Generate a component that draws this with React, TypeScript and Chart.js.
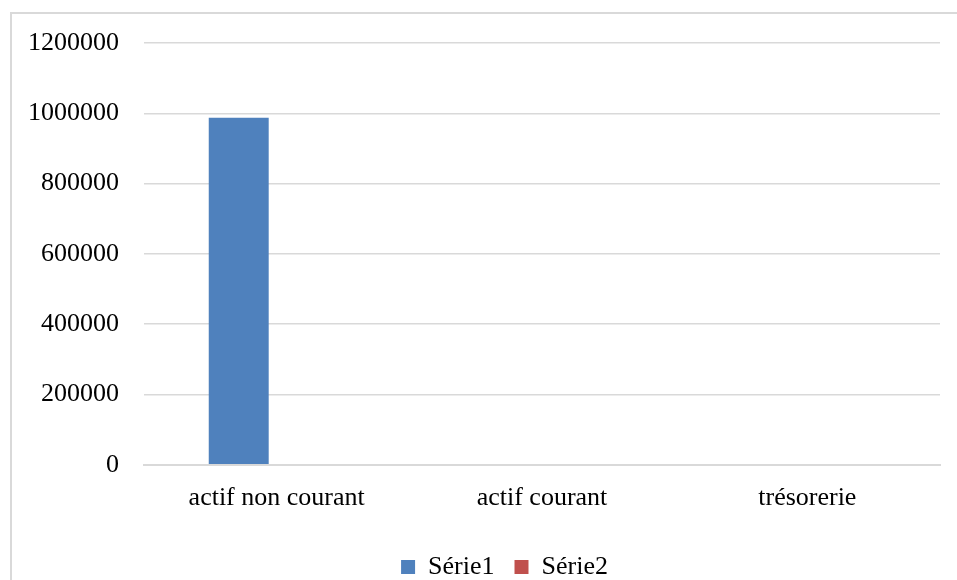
import React, { useEffect, useRef } from "react";
import { Chart, registerables } from "chart.js";

Chart.register(...registerables);

const categories = ["actif non courant", "actif courant", "trésorerie"];
const serie1 = [987000, 2500, 0];
const serie2 = [0, 0, 0];
const seriesNames = ["Série1", "Série2"];
const colors = ["#4f81bd", "#c0504d"];
const yTicks = { min: 0, max: 1200000, step: 200000 };

const legendShift = {
  id: "legendShift",
  afterLayout(chart: any) {
    if (chart.legend) {
      chart.legend.left += 33;
      chart.legend.right += 33;
    }
  },
};

export default function App() {
  const ref = useRef<HTMLCanvasElement>(null);
  useEffect(() => {
    document.body.style.margin = "0";
    const font = { family: "'Liberation Serif', 'Times New Roman', serif", size: 26 };
    const chart = new Chart(ref.current!, {
      type: "bar",
      data: {
        labels: categories,
        datasets: [
          { label: seriesNames[0], data: serie1, backgroundColor: colors[0], categoryPercentage: 0.572, barPercentage: 0.79 },
          { label: seriesNames[1], data: serie2, backgroundColor: colors[1], categoryPercentage: 0.572, barPercentage: 0.79 },
        ],
      },
      plugins: [legendShift],
      options: {
        animation: false,
        responsive: false,
        maintainAspectRatio: false,
        layout: { padding: { left: 3, right: 17, top: 43, bottom: 0 } },
        plugins: {
          tooltip: { enabled: false },
          legend: {
            position: "bottom",
            labels: { boxWidth: 14, boxHeight: 14, color: "#000", font, padding: 20 },
          },
        },
        scales: {
          x: {
            grid: { display: false, drawTicks: false },
            border: { color: "#d9d9d9", width: 2 },
            ticks: { color: "#000", font, padding: 18 },
            afterFit: (s: any) => { s.height += 2; },
          },
          y: {
            min: yTicks.min,
            max: yTicks.max,
            ticks: { stepSize: yTicks.step, color: "#000", font, padding: 25, callback: (v: any) => String(v) },
            grid: { color: "#d9d9d9", lineWidth: 1.5, drawTicks: false },
            border: { display: false },
          },
        },
      },
    });
    return () => chart.destroy();
  }, []);
  return (
    <div style={{ position: "relative", width: 957, height: 580, overflow: "hidden", background: "#fff" }}>
      <div style={{ position: "absolute", left: 10, top: 12, width: 960, height: 620, border: "2px solid #d9d9d9", boxSizing: "border-box" }} />
      <canvas ref={ref} width={957} height={590} style={{ position: "absolute", left: 0, top: 0 }} />
    </div>
  );
}
